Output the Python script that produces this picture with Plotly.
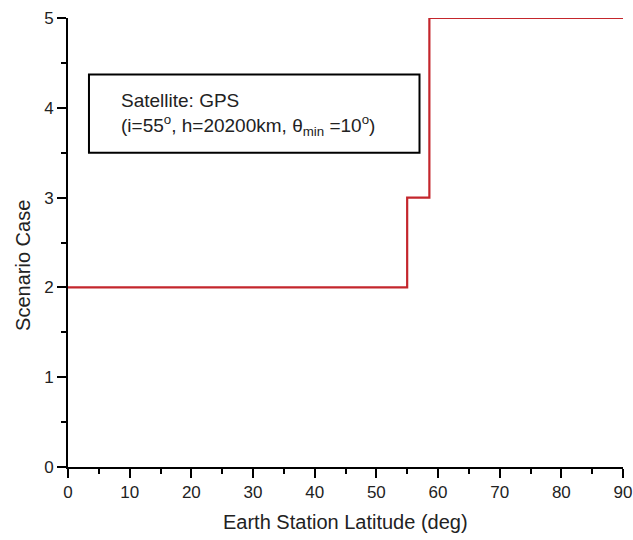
import plotly.graph_objects as go

# Scenario case vs earth-station latitude (step function)
latitude = [0, 55, 55, 58.6, 58.6, 90]
scenario = [2, 2, 3, 3, 5, 5]

x_ticks = [0, 10, 20, 30, 40, 50, 60, 70, 80, 90]
y_ticks = [0, 1, 2, 3, 4, 5]

FONT = "Liberation Sans, Arial, sans-serif"
TXT = "#222222"

fig = go.Figure()
fig.add_trace(go.Scatter(
    x=latitude, y=scenario, mode="lines",
    line=dict(color="#c4262c", width=2.2),
    cliponaxis=False, showlegend=False,
))

# Info box
fig.add_shape(type="rect", xref="x", yref="y",
              x0=3.4, x1=57.0, y0=3.5, y1=4.37,
              line=dict(color="black", width=2), fillcolor="white", layer="below")
fig.add_annotation(
    xref="x", yref="y", x=8.3, y=3.93, xanchor="left", yanchor="middle",
    align="left", showarrow=False,
    text="Satellite: GPS<br>(i=55<sup>o</sup>, h=20200km, θ<sub>min</sub> =10<sup>o</sup>)",
    font=dict(family=FONT, size=19, color=TXT),
)

# Axis titles
fig.add_annotation(
    xref="paper", yref="paper", x=0.5, y=-0.1225, xanchor="center", yanchor="middle",
    showarrow=False, text="Earth Station Latitude (deg)",
    font=dict(family=FONT, size=20, color=TXT),
)
fig.add_annotation(
    xref="paper", yref="paper", x=-0.081, y=0.448, xanchor="center", yanchor="middle",
    showarrow=False, text="Scenario Case", textangle=-90,
    font=dict(family=FONT, size=20, color=TXT),
)

axis_common = dict(
    showgrid=False, zeroline=False, showline=True, linecolor="black", linewidth=2,
    ticks="outside", ticklen=9, tickwidth=2, tickcolor="black",
    tickfont=dict(family=FONT, size=17, color=TXT),
    automargin=False, ticklabeloverflow="allow",
)

fig.update_xaxes(
    range=[0, 90], tickvals=x_ticks, ticktext=[str(v) for v in x_ticks],
    minor=dict(dtick=5, tick0=0, ticks="outside", ticklen=5, tickwidth=2, tickcolor="black"),
    **axis_common,
)
fig.update_yaxes(
    range=[0, 5], tickvals=y_ticks, ticktext=[str(v) for v in y_ticks],
    minor=dict(dtick=0.5, tick0=0, ticks="outside", ticklen=5, tickwidth=2, tickcolor="black"),
    **axis_common,
)

fig.update_layout(
    width=633, height=540,
    margin=dict(l=68, r=10, t=18, b=73),
    plot_bgcolor="white", paper_bgcolor="white",
)

fig.write_html("out.html")
